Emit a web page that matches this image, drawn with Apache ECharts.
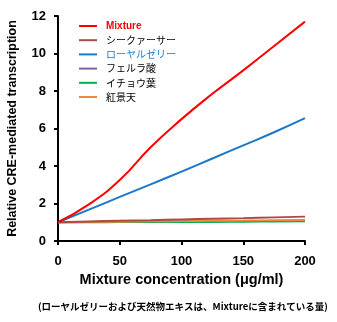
<!DOCTYPE html>
<html><head><meta charset="utf-8">
<script src="https://cdn.jsdelivr.net/npm/echarts@6/dist/echarts.min.js"></script>
<style>html,body{margin:0;padding:0;background:#fff}#c{width:337px;height:322px}</style>
</head><body><div id="c"></div>
<script>
const concentrations = [0, 25, 50, 75, 100, 125, 150, 175, 200];
const mixture = [1.0, 1.95, 3.25, 5.0, 6.5, 7.85, 9.1, 10.4, 11.7];
const shikuwasa = [1.0, 1.04, 1.08, 1.11, 1.15, 1.19, 1.22, 1.26, 1.3];
const royalJelly = [1.0, 1.67, 2.35, 3.02, 3.7, 4.4, 5.1, 5.8, 6.55];
const ferulicAcid = [1.0, 1.01, 1.02, 1.03, 1.04, 1.05, 1.06, 1.07, 1.08];
const ginkgo = [1.0, 1.0, 1.01, 1.01, 1.02, 1.02, 1.03, 1.04, 1.05];
const rhodiola = [1.0, 1.02, 1.03, 1.05, 1.06, 1.08, 1.09, 1.11, 1.12];
const seriesNames = ['Mixture', 'シークァーサー', 'ローヤルゼリー', 'フェルラ酸', 'イチョウ葉', '紅景天'];
const seriesColors = ['#ff0000', '#b04848', '#1a78c8', '#7f62a0', '#00b050', '#f0883c'];
const seriesData = [mixture, shikuwasa, royalJelly, ferulicAcid, ginkgo, rhodiola];
const xTitle = 'Mixture concentration (μg/ml)';
const yTitle = 'Relative CRE-mediated transcription';
const footnote = '(ローヤルゼリーおよび天然物エキスは、Mixtureに含まれている量)';

const chart = echarts.init(document.getElementById('c'), null, {renderer: 'canvas'});
const drawOrder = [3, 4, 5, 1, 2, 0];
chart.setOption({
  animation: false,
  grid: {left: 58, right: 32, top: 16, bottom: 81, containLabel: false, outerBoundsMode: 'none'},
  legend: {
    orient: 'vertical', left: 79, top: 20, padding: 0, itemWidth: 18, itemHeight: 2, itemGap: 2.2,
    icon: 'rect',
    textStyle: {fontSize: 10, fontFamily: 'Noto Sans CJK JP', color: '#000', lineHeight: 12, padding: [0,0,0,4]},
    data: seriesNames.map((n, i) => ({
      name: n,
      textStyle: i === 0 ? {color: '#ff0000', fontWeight: 'bold', fontFamily: 'Liberation Sans'} : (i === 2 ? {color: '#1a78c8'} : {})
    }))
  },
  xAxis: {
    type: 'value', min: 0, max: 200, interval: 50,
    name: xTitle, nameLocation: 'middle', nameGap: 30,
    nameTextStyle: {fontSize: 14.5, fontWeight: 'bold', fontFamily: 'Liberation Sans', color: '#000'},
    axisLine: {lineStyle: {color: '#000', width: 2}},
    axisTick: {length: 4, lineStyle: {color: '#000', width: 2}},
    axisLabel: {fontSize: 13, fontWeight: 'bold', fontFamily: 'Liberation Sans', color: '#000', margin: 14},
    splitLine: {show: false}
  },
  yAxis: {
    type: 'value', min: 0, max: 12, interval: 2,
    name: yTitle, nameLocation: 'middle', nameGap: 39,
    nameTextStyle: {fontSize: 12.5, fontWeight: 'bold', fontFamily: 'Liberation Sans', color: '#000'},
    axisLine: {show: true, lineStyle: {color: '#000', width: 2}},
    axisTick: {show: true, length: 4, lineStyle: {color: '#000', width: 2}},
    axisLabel: {fontSize: 13, fontWeight: 'bold', fontFamily: 'Liberation Sans', color: '#000', margin: 12},
    splitLine: {show: false}
  },
  series: drawOrder.map(i => ({
    name: seriesNames[i], type: 'line', smooth: 0.5, symbol: 'none',
    data: concentrations.map((x, k) => [x, seriesData[i][k]]),
    lineStyle: {color: seriesColors[i], width: 2},
    itemStyle: {color: seriesColors[i]}
  })),
  graphic: [{
    type: 'text', left: 38, top: 302,
    style: {text: footnote, fontSize: 9.5, fontWeight: 'bold', fontFamily: 'Noto Sans CJK JP', fill: '#000'}
  }]
});
</script></body></html>
